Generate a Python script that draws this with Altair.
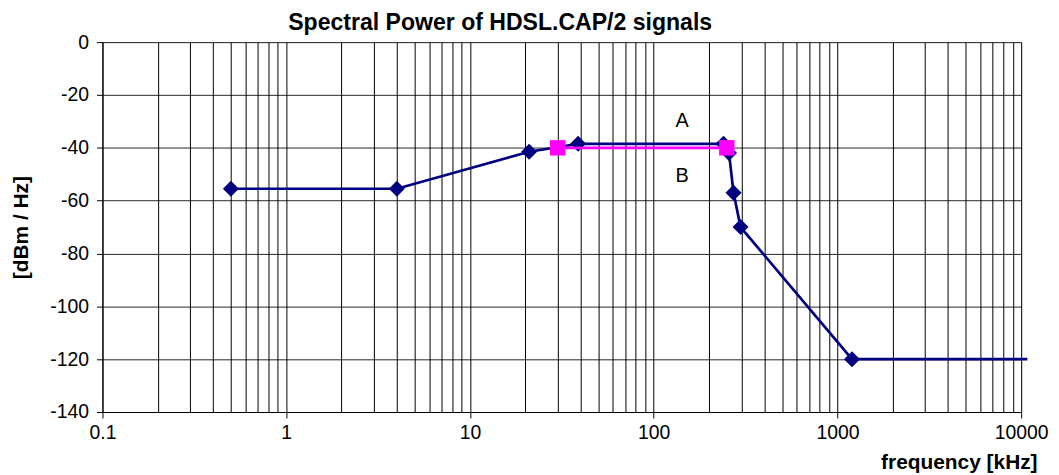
import altair as alt
import pandas as pd

# ---- data ----
a_freq = [0.5, 4, 21, 38.8, 240, 257, 272, 297, 1200, 10800]
a_power = [-55.5, -55.5, -41.5, -38.5, -38.5, -42, -57, -70, -120, -120]
a_marker = [True, True, True, True, True, True, True, True, True, False]

b_freq = [30, 250]
b_power = [-40, -40]

label_text = ["A", "B"]
label_freq = [143, 143]
label_power = [-32.3, -53.0]

x_decades = [0.1, 1, 10, 100, 1000, 10000]
x_grid = [round(m * 10 ** e, 6) for e in range(-1, 4) for m in range(1, 10)] + [10000]
y_ticks = [-140, -120, -100, -80, -60, -40, -20, 0]

FONT = "Liberation Sans"

dfa = pd.DataFrame({"f": a_freq, "p": a_power, "m": a_marker})
dfb = pd.DataFrame({"f": b_freq, "p": b_power})
dfl = pd.DataFrame({"f": label_freq, "p": label_power, "t": label_text})

dec_test = "abs(log(datum.value)/LN10 - round(log(datum.value)/LN10)) < 0.001"

x_enc = alt.X(
    "f:Q",
    scale=alt.Scale(type="log", domain=[0.1, 10000]),
    axis=alt.Axis(
        values=x_grid,
        labelExpr=f"({dec_test}) ? ('' + datum.value) : ''",
        tickOpacity={"condition": {"test": dec_test, "value": 1}, "value": 0},
        grid=True, gridColor="#000", gridWidth=1, gridOpacity=1,
        domainColor="#000", tickColor="#000", tickSize=6,
        labelPadding=6, labelFont=FONT, labelFontSize=19.5, labelColor="#000",
        labelFlush=False, labelOverlap=False,
        title="frequency [kHz]", titleX=940, titleY=57, titleAlign="right",
        titleBaseline="alphabetic", titleFont=FONT, titleFontSize=21,
        titleFontWeight="bold", titleColor="#000",
    ),
)
y_enc = alt.Y(
    "p:Q",
    scale=alt.Scale(domain=[-140, 0]),
    axis=alt.Axis(
        values=y_ticks,
        labelExpr="'' + datum.value",
        grid=True, gridColor="#000", gridWidth=1, gridOpacity=0.85,
        domainColor="#000", tickColor="#000", tickSize=6,
        labelPadding=8, labelFont=FONT, labelFontSize=19.5, labelColor="#000",
        labelOverlap=False,
        title="[dBm / Hz]", titleX=-75.5, titleY=186, titleAngle=270,
        titleBaseline="alphabetic", titleAlign="center",
        titleFont=FONT, titleFontSize=21, titleFontWeight="bold", titleColor="#000",
    ),
)

line_a = alt.Chart(dfa).mark_line(color="#000080", strokeWidth=2.7, clip=False).encode(x=x_enc, y=y_enc)
pts_a = alt.Chart(dfa).transform_filter("datum.m").mark_point(
    shape="diamond", filled=True, color="#000080", size=260, opacity=1
).encode(x=x_enc, y=y_enc)
line_b = alt.Chart(dfb).mark_line(color="#FF00FF", strokeWidth=2.7).encode(x=x_enc, y=y_enc)
pts_b = alt.Chart(dfb).mark_point(
    shape="square", filled=True, color="#FF00FF", size=240, opacity=1
).encode(x=x_enc, y=y_enc)
txt = alt.Chart(dfl).mark_text(
    font=FONT, fontSize=20, color="#000", baseline="alphabetic", align="center"
).encode(x=x_enc, y=y_enc, text="t:N")

chart = (
    alt.layer(line_a, pts_a, line_b, pts_b, txt)
    .properties(
        width=924,
        height=372,
        title=alt.TitleParams(
            "Spectral Power of HDSL.CAP/2 signals",
            font=FONT, fontSize=23.2, fontWeight="bold", color="#000",
            anchor="middle", frame="group", dx=-62, dy=9, offset=6,
        ),
        autosize=alt.AutoSizeParams(type="none"),
        padding={"left": 95, "top": 33, "right": 30, "bottom": 60},
    )
    .configure_view(stroke="#000", strokeWidth=1)
    .configure(background="white")
)

chart.save("out.html", embed_options={"renderer": "svg", "actions": False})
